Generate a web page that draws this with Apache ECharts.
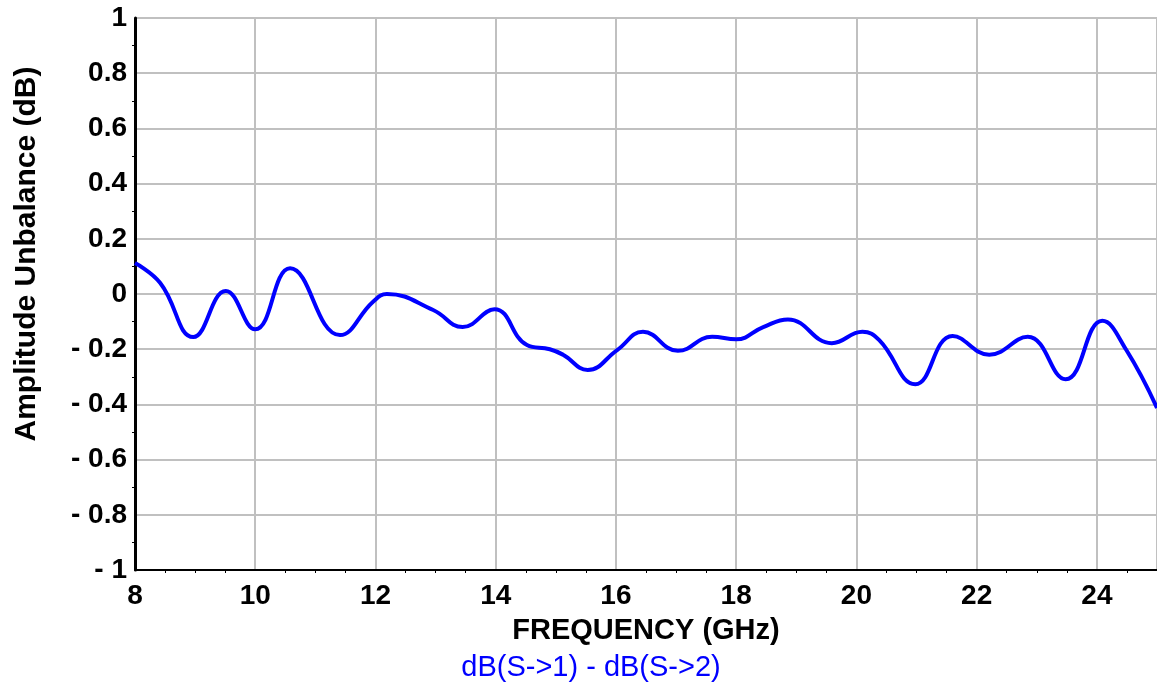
<!DOCTYPE html>
<html>
<head>
<meta charset="utf-8">
<script src="https://cdn.jsdelivr.net/npm/echarts@6/dist/echarts.min.js"></script>
<style>
  html, body { margin: 0; padding: 0; background: #fff; }
  #chart { width: 1157px; height: 688px; }
</style>
</head>
<body>
<div id="chart"></div>
<script>
// Frequency (GHz)
const freq = [8, 8.42, 8.97, 9.51, 10.0, 10.58, 11.41, 11.96, 12.19, 12.96, 13.45, 13.98, 14.52, 14.9, 15.12, 15.53, 16.02, 16.45, 17.03, 17.6, 18.0, 18.45, 18.86, 19.59, 20.1, 20.38, 20.98, 21.6, 22.21, 22.85, 23.48, 24.09, 24.49, 25.0];
// Amplitude unbalance (dB)
const unbalance = [0.112, 0.04, -0.156, 0.011, -0.128, 0.093, -0.149, -0.028, 0.0, -0.058, -0.12, -0.055, -0.185, -0.2, -0.22, -0.275, -0.203, -0.137, -0.206, -0.155, -0.164, -0.12, -0.092, -0.178, -0.137, -0.167, -0.327, -0.152, -0.22, -0.155, -0.309, -0.097, -0.203, -0.413];
const seriesLabel = 'dB(S->1) - dB(S->2)';
const xTitle = 'FREQUENCY (GHz)';
const yTitle = 'Amplitude Unbalance (dB)';

const points = freq.map((f, i) => [f, unbalance[i]]);
const font = "'Liberation Sans', Arial, sans-serif";

const chart = echarts.init(document.getElementById('chart'));
chart.setOption({
  animation: false,
  backgroundColor: '#fff',
  grid: { left: 135, right: 0, top: 18, bottom: 118, containLabel: false },
  xAxis: {
    type: 'value', min: 8, max: 25, interval: 2,
    name: xTitle, nameLocation: 'middle', nameGap: 46,
    nameTextStyle: { fontFamily: font, fontWeight: 'bold', fontSize: 29, color: '#000' },
    axisLine: { show: true, onZero: false, lineStyle: { color: '#000', width: 2 } },
    axisTick: { show: false },
    minorTick: { show: true, splitNumber: 4, length: 3, lineStyle: { color: '#000', width: 1 } },
    axisLabel: { show: true, showMaxLabel: false, margin: 12, fontFamily: font, fontWeight: 'bold', fontSize: 28, color: '#000' },
    splitLine: { show: true, lineStyle: { color: '#c0c0c0', width: 2 } }
  },
  yAxis: {
    type: 'value', min: -1, max: 1, interval: 0.2,
    axisLine: { show: true, onZero: false, lineStyle: { color: '#000', width: 3 } },
    axisTick: { show: false },
    minorTick: { show: true, splitNumber: 2, length: 3, lineStyle: { color: '#000', width: 1 } },
    axisLabel: {
      margin: 8, fontFamily: font, fontWeight: 'bold', fontSize: 28, color: '#000',
      formatter: function (v) {
        const r = Math.round(v * 10) / 10;
        if (r === 0) return '0';
        return r < 0 ? '- ' + String(Math.abs(r)) : String(r);
      }
    },
    splitLine: { show: true, lineStyle: { color: '#c0c0c0', width: 2 } }
  },
  graphic: [
    {
      type: 'text', x: 27, y: 254, rotation: Math.PI / 2,
      style: { text: yTitle, fontFamily: font, fontWeight: 'bold', fontSize: 30, fill: '#000', align: 'center', verticalAlign: 'middle' }
    },
    {
      type: 'text', x: 591, y: 668,
      style: { text: seriesLabel, fontFamily: font, fontSize: 29, fill: '#0000ff', align: 'center', verticalAlign: 'middle' }
    }
  ],
  series: [{
    name: seriesLabel,
    type: 'line',
    data: points,
    smooth: 0.45,
    showSymbol: false,
    clip: true,
    lineStyle: { color: '#0000ff', width: 4 }
  }]
});
</script>
</body>
</html>
